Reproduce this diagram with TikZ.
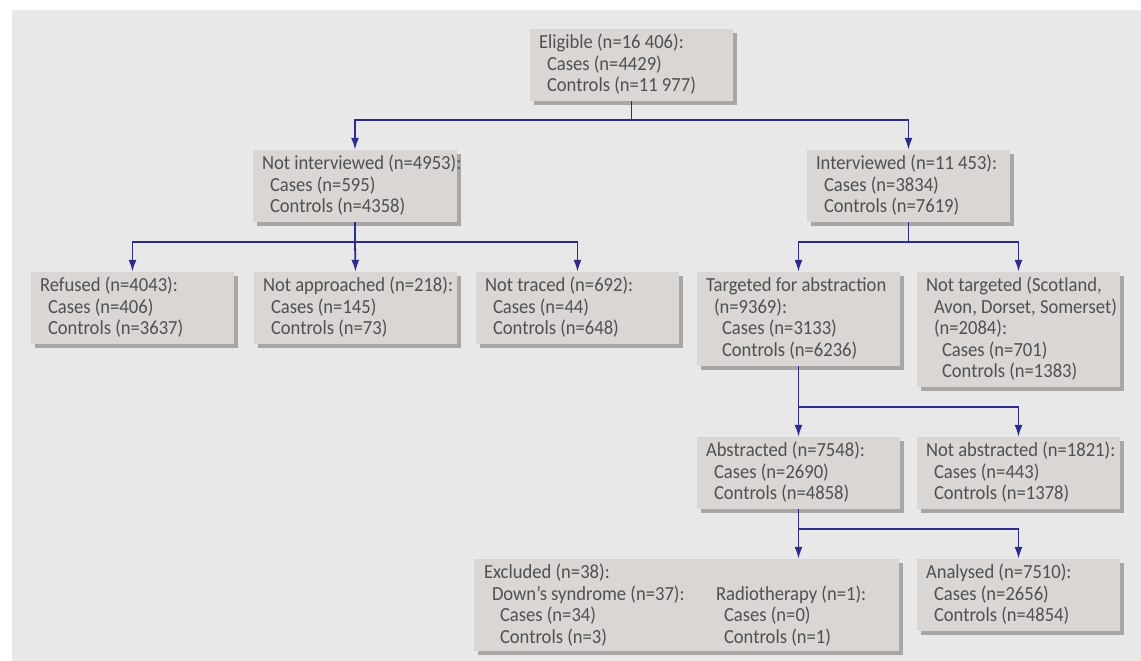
\documentclass[tikz,border=0pt]{standalone}
\usepackage{fontspec}
\setmainfont{Carlito}[FakeStretch=0.93]
\usetikzlibrary{calc,fit,shadows,arrows.meta}
\definecolor{bgcol}{HTML}{E8E8E8}
\definecolor{boxcol}{HTML}{D9D6D3}
\definecolor{shcol}{HTML}{A9A6A6}
\definecolor{txtcol}{HTML}{505050}
\definecolor{linecol}{HTML}{2C2C8C}
\newcommand\bx[1]{\vtop{\baselineskip=21.5pt\lineskiplimit=-10pt\halign{##\hfil\cr#1\crcr}}}
\newcommand\ia{\kern8pt }
\newcommand\ib{\kern16pt }
\begin{document}
\begin{tikzpicture}[x=1pt,y=-1pt,
  flowbox/.style={fill=boxcol,inner sep=0pt,draw=none,
    drop shadow={shadow xshift=4pt,shadow yshift=-4pt,fill=shcol,opacity=1}},
  txt/.style={anchor=base west,inner sep=0pt,text=txtcol,font=\fontsize{20pt}{21.5pt}\selectfont},
  conn/.style={draw=linecol,line width=1.8pt},
  arr/.style={conn,-{Latex[length=12pt,width=8pt]}}]
\useasboundingbox (0,0) rectangle (1141,661);
\fill[bgcol] (12,10) rectangle (1141,661);
% boxes
\node[flowbox,fit={(530,29)(733,101)}] (elig) {};
\node[flowbox,fit={(253,150)(457,222)}] (notint) {};
\node[flowbox,fit={(807,150)(1010,222)}] (int) {};
\node[flowbox,fit={(31,272)(234,344)}] (ref) {};
\node[flowbox,fit={(254,272)(457,344)}] (notapp) {};
\node[flowbox,fit={(476,272)(679,344)}] (nottr) {};
\node[flowbox,fit={(697,272)(900,366)}] (targ) {};
\node[flowbox,fit={(917,272)(1120,387)}] (nottarg) {};
\node[flowbox,fit={(697,437)(900,509)}] (abs) {};
\node[flowbox,fit={(917,437)(1120,509)}] (notabs) {};
\node[flowbox,fit={(474,559)(899,651)}] (excl) {};
\node[flowbox,fit={(917,559)(1120,631)}] (anal) {};
% texts
\node[txt] (elig-t) at ($(elig.north west)+(9,20)$) {\bx{Eligible (n=16 406):\cr\ia Cases (n=4429)\cr\ia Controls (n=11 977)}};
\node[txt] (notint-t) at ($(notint.north west)+(9,20)$) {\bx{Not interviewed (n=4953):\cr\ia Cases (n=595)\cr\ia Controls (n=4358)}};
\node[txt] (int-t) at ($(int.north west)+(9,20)$) {\bx{Interviewed (n=11 453):\cr\ia Cases (n=3834)\cr\ia Controls (n=7619)}};
\node[txt] (ref-t) at ($(ref.north west)+(9,20)$) {\bx{Refused (n=4043):\cr\ia Cases (n=406)\cr\ia Controls (n=3637)}};
\node[txt] (notapp-t) at ($(notapp.north west)+(9,20)$) {\bx{Not approached (n=218):\cr\ia Cases (n=145)\cr\ia Controls (n=73)}};
\node[txt] (nottr-t) at ($(nottr.north west)+(9,20)$) {\bx{Not traced (n=692):\cr\ia Cases (n=44)\cr\ia Controls (n=648)}};
\node[txt] (targ-t) at ($(targ.north west)+(9,20)$) {\bx{Targeted for abstraction\cr\ia(n=9369):\cr\ib Cases (n=3133)\cr\ib Controls (n=6236)}};
\node[txt] (nottarg-t) at ($(nottarg.north west)+(9,20)$) {\bx{Not targeted (Scotland,\cr\ia Avon, Dorset, Somerset)\cr\ia(n=2084):\cr\ib Cases (n=701)\cr\ib Controls (n=1383)}};
\node[txt] (abs-t) at ($(abs.north west)+(9,20)$) {\bx{Abstracted (n=7548):\cr\ia Cases (n=2690)\cr\ia Controls (n=4858)}};
\node[txt] (notabs-t) at ($(notabs.north west)+(9,20)$) {\bx{Not abstracted (n=1821):\cr\ia Cases (n=443)\cr\ia Controls (n=1378)}};
\node[txt] (excl-t) at ($(excl.north west)+(10,20)$) {\bx{Excluded (n=38):\cr\ia Down’s syndrome (n=37):\cr\ib Cases (n=34)\cr\ib Controls (n=3)}};
\node[txt] (excl-t2) at ($(excl.north west)+(242,41.5)$) {\bx{Radiotherapy (n=1):\cr\ia Cases (n=0)\cr\ia Controls (n=1)}};
\node[txt] (anal-t) at ($(anal.north west)+(9,20)$) {\bx{Analysed (n=7510):\cr\ia Cases (n=2656)\cr\ia Controls (n=4854)}};
% connectors
\coordinate (j1) at ($(elig.south)+(0,19)$);
\draw[conn] (elig.south) -- (j1);
\draw[arr] (j1) -| (notint.north);
\draw[arr] (j1) -| (int.north);
\coordinate (j2) at ($(notint.south)+(0,20)$);
\draw[conn] (notint.south) -- (j2);
\draw[arr] (j2) -| (ref.north);
\draw[arr] (j2) -- (notapp.north);
\draw[arr] (j2) -| (nottr.north);
\coordinate (j3) at ($(int.south)+(0,20)$);
\draw[conn] (int.south) -- (j3);
\draw[arr] (j3) -| (targ.north);
\draw[arr] (j3) -| (nottarg.north);
\coordinate (j4) at ($(targ.south)+(0,41)$);
\draw[arr] (targ.south) -- (abs.north);
\draw[arr] (j4) -| (notabs.north);
\coordinate (j5) at ($(abs.south)+(0,20)$);
\draw[arr] (abs.south) -- (j5 |- excl.north);
\draw[arr] (j5) -| (anal.north);
\end{tikzpicture}
\end{document}
